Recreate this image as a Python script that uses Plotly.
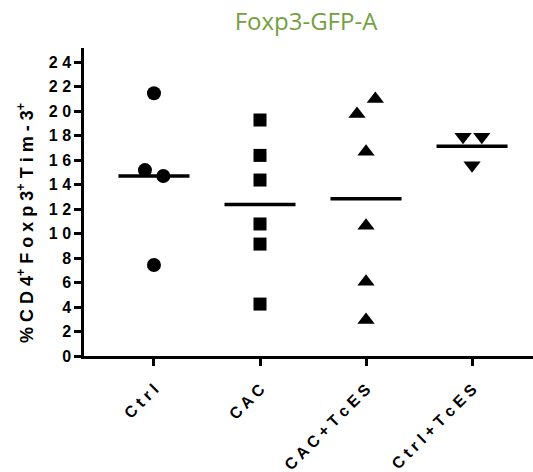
import numpy as np
import plotly.graph_objects as go

categories = ["Ctrl", "CAC", "CAC+TcES", "Ctrl+TcES"]
ctrl = [21.45, 15.18, 14.7, 7.43]
cac = [19.27, 16.38, 14.37, 10.78, 9.14, 4.24]
cac_tces = [20.98, 19.76, 16.68, 10.64, 6.07, 2.94]
ctrl_tces = [17.9, 17.9, 15.57]
ctrl_dx = [0.0, -0.085, 0.088, 0.0]
cac_dx = [0, 0, 0, 0, 0, 0]
cac_tces_dx = [0.088, -0.085, 0, 0, 0, 0]
ctrl_tces_dx = [-0.085, 0.092, 0.0]
y_ticks = list(range(0, 25, 2))

groups = [
    (ctrl, ctrl_dx, "circle", 14),
    (cac, cac_dx, "square", 13),
    (cac_tces, cac_tces_dx, "triangle-up", 15),
    (ctrl_tces, ctrl_tces_dx, "triangle-down", 15),
]

fig = go.Figure()
for i, (vals, dx, sym, sz) in enumerate(groups):
    fig.add_trace(go.Scatter(
        x=[i + d for d in dx], y=vals, mode="markers",
        marker=dict(symbol=sym, size=sz, color="black", line=dict(width=0)),
        showlegend=False, hoverinfo="y"))
    m = float(np.mean(vals))
    fig.add_trace(go.Scatter(
        x=[i - 0.335, i + 0.335], y=[m, m], mode="lines",
        line=dict(color="black", width=3.5), showlegend=False, hoverinfo="skip"))

def spaced(s, sep=" "):
    return sep.join(list(s))

font_fam = "Liberation Sans, Arial, sans-serif"

fig.update_layout(
    width=533, height=472,
    margin=dict(l=84, r=0, t=48, b=116, autoexpand=False),
    plot_bgcolor="white", paper_bgcolor="white",
    title=dict(text="Foxp3-GFP-A", x=306/533, xanchor="center",
               y=1-22/472, yanchor="middle", yref="container", xref="container",
               font=dict(family="Open Sans, sans-serif", size=24, color="#74a041")),
    xaxis=dict(
        range=[-0.66, 3.575], tickmode="array", automargin=False,
        tickvals=list(range(len(categories))),
        ticktext=[spaced(c) for c in categories],
        tickangle=-45, showline=True, linecolor="black", linewidth=2.5,
        ticks="outside", ticklen=7, tickwidth=2.5, tickcolor="black",
        ticklabelstandoff=8,
        showgrid=False, zeroline=False,
        tickfont=dict(family=font_fam, size=16, color="black", weight="bold")),
    yaxis=dict(
        range=[0, 25.15], tickmode="array", tickvals=y_ticks, automargin=False,
        ticktext=[spaced(str(v)) for v in y_ticks],
        showline=True, linecolor="black", linewidth=2.5,
        ticks="outside", ticklen=7, tickwidth=2.5, tickcolor="black",
        showgrid=False, zeroline=False,
        tickfont=dict(family=font_fam, size=16, color="black", weight="bold")),
)

ylabel = " ".join(["%", "C", "D", "4<sup>+</sup>", "F", "o", "x", "p", "3<sup>+</sup>",
                   "T", "i", "m", "-", "3<sup>+</sup>"])
fig.add_annotation(
    text=ylabel, textangle=-90, xref="paper", yref="y",
    x=0, y=(356-223)/12.25, xanchor="center", yanchor="middle", xshift=-59,
    showarrow=False,
    font=dict(family=font_fam, size=18, color="black", weight="bold"))

fig.write_html("out.html", config={"displayModeBar": False},
               post_script="document.body.style.margin='0';document.body.style.padding='0';")
